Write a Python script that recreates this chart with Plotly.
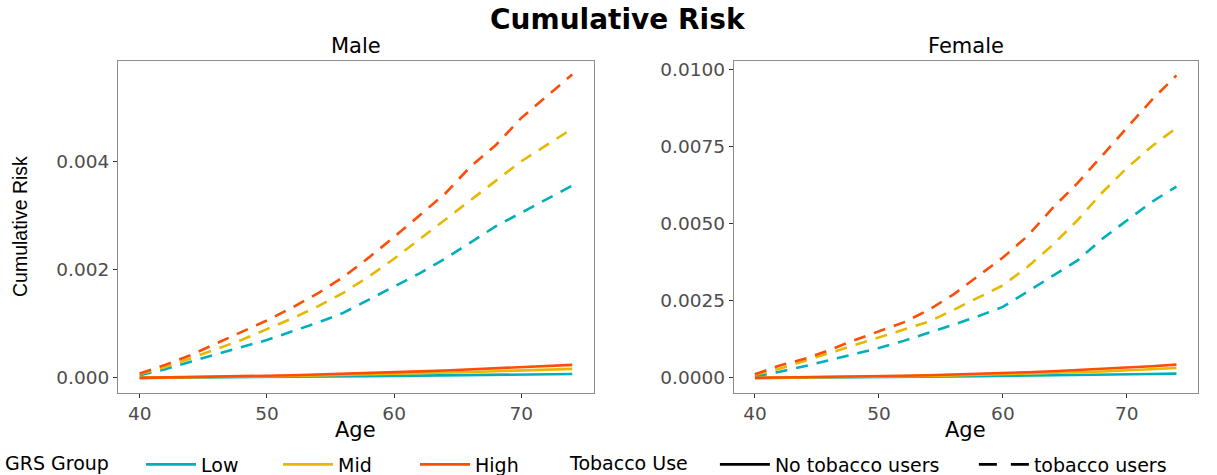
import plotly.graph_objects as go

ages = [40, 42, 44, 46, 48, 50, 52, 54, 56, 58, 60, 62, 64, 66, 68, 70, 72, 74]
groups = ["Low", "Mid", "High"]
colors = {"Low": "#00AFBB", "Mid": "#E7B800", "High": "#FC4E07"}

# Male, no tobacco users
male_no_low = [0, .000002, .000005, .000008, .000011, .000015, .000019, .000023, .000027, .000032,
               .000037, .000042, .000047, .000053, .000059, .000064, .000068, .000072]
male_no_mid = [0, .000004, .000009, .000015, .000021, .000028, .000035, .000043, .000052, .000062,
               .000072, .000084, .000096, .000109, .000123, .000137, .000152, .000167]
male_no_high = [0, .000006, .000013, .000021, .00003, .00004, .00005, .000062, .000075, .000089,
                .000104, .00012, .000137, .000155, .000174, .000195, .000217, .00024]
# Male, tobacco users
male_tob_low = [0.00005, 0.00016, 0.0003, 0.00043, 0.00056, 0.0007, 0.00086, 0.00102, 0.0012, 0.00144,
                0.00168, 0.00193, 0.0022, 0.0025, 0.0028, 0.00305, 0.0033, 0.00355]
male_tob_mid = [0.00007, 0.0002, 0.00036, 0.00053, 0.0007, 0.0009, 0.0011, 0.00132, 0.00157, 0.00187,
                0.0022, 0.00256, 0.00292, 0.00328, 0.00364, 0.004, 0.0043, 0.0046]
male_tob_high = [0.00008, 0.00024, 0.00042, 0.00063, 0.00084, 0.00106, 0.0013, 0.00156, 0.00186, 0.00222,
                 0.0026, 0.003, 0.0034, 0.0039, 0.0043, 0.0048, 0.0052, 0.0056]
# Female, no tobacco users
female_no_low = [0, .000003, .000007, .000012, .000017, .000023, .00003, .000037, .000044, .000052,
                 .00006, .000069, .000079, .00009, .000101, .000113, .000126, .00014]
female_no_mid = [0, .000006, .000013, .000021, .00003, .00004, .000052, .000066, .000081, .000098,
                 .000117, .000138, .00016, .000184, .00021, .000242, .00028, .00032]
female_no_high = [0, .000008, .000017, .000027, .000039, .000053, .000069, .000087, .000107, .00013,
                  .000156, .000185, .000217, .000252, .00029, .00033, .00038, .00043]
# Female, tobacco users
female_tob_low = [0.00005, 0.0002, 0.00038, 0.00057, 0.00077, 0.00097, 0.0012, 0.00145, 0.00172, 0.002,
                  0.0023, 0.0028, 0.0033, 0.0038, 0.0045, 0.0051, 0.0057, 0.0062]
female_tob_mid = [0.0001, 0.0003, 0.00055, 0.0008, 0.00105, 0.0013, 0.00156, 0.00182, 0.0022, 0.0026,
                  0.003, 0.0036, 0.0043, 0.0051, 0.006, 0.0068, 0.0075, 0.0081]
female_tob_high = [0.00012, 0.0004, 0.00062, 0.0009, 0.00122, 0.0015, 0.0018, 0.0022, 0.0027, 0.0033,
                   0.0039, 0.0046, 0.0055, 0.0063, 0.0072, 0.0081, 0.009, 0.0098]

male_ticks = [0, 0.002, 0.004]
male_ticktext = ["0.000", "0.002", "0.004"]
female_ticks = [0, 0.0025, 0.005, 0.0075, 0.01]
female_ticktext = ["0.0000", "0.0025", "0.0050", "0.0075", "0.0100"]
age_ticks = [40, 50, 60, 70]

panels = [
    ("x", "y", {"Low": male_no_low, "Mid": male_no_mid, "High": male_no_high},
     {"Low": male_tob_low, "Mid": male_tob_mid, "High": male_tob_high}),
    ("x2", "y2", {"Low": female_no_low, "Mid": female_no_mid, "High": female_no_high},
     {"Low": female_tob_low, "Mid": female_tob_mid, "High": female_tob_high}),
]

DASH = "12px,9px"
LW = 2.6

fig = go.Figure()
for xa, ya, no_d, tob_d in panels:
    for g in groups:
        fig.add_trace(go.Scatter(x=ages, y=tob_d[g], mode="lines", xaxis=xa, yaxis=ya,
                                 line=dict(color=colors[g], width=LW, dash=DASH),
                                 showlegend=False, hoverinfo="skip"))
    for g in groups:
        fig.add_trace(go.Scatter(x=ages, y=no_d[g], mode="lines", xaxis=xa, yaxis=ya,
                                 line=dict(color=colors[g], width=LW),
                                 showlegend=False, hoverinfo="skip"))

# legend entries
for g in groups:
    fig.add_trace(go.Scatter(x=[None], y=[None], mode="lines", name=g,
                             line=dict(color=colors[g], width=LW), legend="legend"))
fig.add_trace(go.Scatter(x=[None], y=[None], mode="lines", name="No tobacco users",
                         line=dict(color="black", width=LW), legend="legend2"))
fig.add_trace(go.Scatter(x=[None], y=[None], mode="lines", name="tobacco users",
                         line=dict(color="black", width=LW, dash="18px,14px"), legend="legend2"))

FONT = "DejaVu Sans"
tickfont = dict(family=FONT, size=18.5, color="#4D4D4D")
axis_common = dict(showline=True, mirror=True, linecolor="#8C8C8C", linewidth=1.2,
                   ticks="outside", ticklen=4, tickcolor="#333333", tickwidth=1,
                   showgrid=False, zeroline=False, tickfont=tickfont)

xdom1 = [0.097, 0.488]
xdom2 = [0.603, 0.984]
ydom = [0.1726, 0.8716]
legfont = dict(family=FONT, size=19, color="black")
NB = "\u00a0"
fig.update_layout(
    width=1217, height=475,
    margin=dict(l=0, r=0, t=0, b=0, autoexpand=False),
    paper_bgcolor="white", plot_bgcolor="white",
    font=dict(family=FONT, color="black"),
    xaxis=dict(domain=xdom1, range=[38.3, 75.7], tickvals=age_ticks, anchor="y", **axis_common),
    yaxis=dict(domain=ydom, range=[-0.000279, 0.00585], tickvals=male_ticks, ticktext=male_ticktext,
               anchor="x", **axis_common),
    xaxis2=dict(domain=xdom2, range=[38.3, 75.7], tickvals=age_ticks, anchor="y2", **axis_common),
    yaxis2=dict(domain=ydom, range=[-0.000489, 0.010267], tickvals=female_ticks, ticktext=female_ticktext,
                anchor="x2", **axis_common),
    legend=dict(orientation="h", x=3 / 1217, y=0.022, xanchor="left", yanchor="middle",
                itemwidth=50, entrywidth=72,
                title=dict(text="GRS Group" + NB * 4, font=legfont, side="left"),
                font=legfont, bgcolor="rgba(0,0,0,0)"),
    legend2=dict(orientation="h", x=568 / 1217, y=0.022, xanchor="left", yanchor="middle",
                 itemwidth=50, entrywidth=194,
                 title=dict(text="Tobacco Use" + NB * 3, font=legfont, side="left"),
                 font=legfont, bgcolor="rgba(0,0,0,0)"),
    annotations=[
        dict(text="<b>Cumulative Risk</b>", x=0.508, y=0.958, xref="paper", yref="paper",
             showarrow=False, font=dict(family=FONT, size=28, color="black"), xanchor="center", yanchor="middle"),
        dict(text="Male", x=sum(xdom1) / 2, y=0.903, xref="paper", yref="paper",
             showarrow=False, font=dict(family=FONT, size=21, color="black"), xanchor="center", yanchor="middle"),
        dict(text="Female", x=sum(xdom2) / 2, y=0.903, xref="paper", yref="paper",
             showarrow=False, font=dict(family=FONT, size=21, color="black"), xanchor="center", yanchor="middle"),
        dict(text="Age", x=sum(xdom1) / 2, y=0.094, xref="paper", yref="paper",
             showarrow=False, font=dict(family=FONT, size=21, color="black"), xanchor="center", yanchor="middle"),
        dict(text="Age", x=sum(xdom2) / 2, y=0.094, xref="paper", yref="paper",
             showarrow=False, font=dict(family=FONT, size=21, color="black"), xanchor="center", yanchor="middle"),
        dict(text="Cumulative Risk", x=20 / 1217, y=sum(ydom) / 2, xref="paper", yref="paper",
             showarrow=False, textangle=-90, font=dict(family="Liberation Sans", size=19.5, color="black"),
             xanchor="center", yanchor="middle"),
    ],
)

fig.write_html("out.html", config={"displayModeBar": False},
               post_script="document.body.style.margin='0';document.body.style.overflow='hidden';")
